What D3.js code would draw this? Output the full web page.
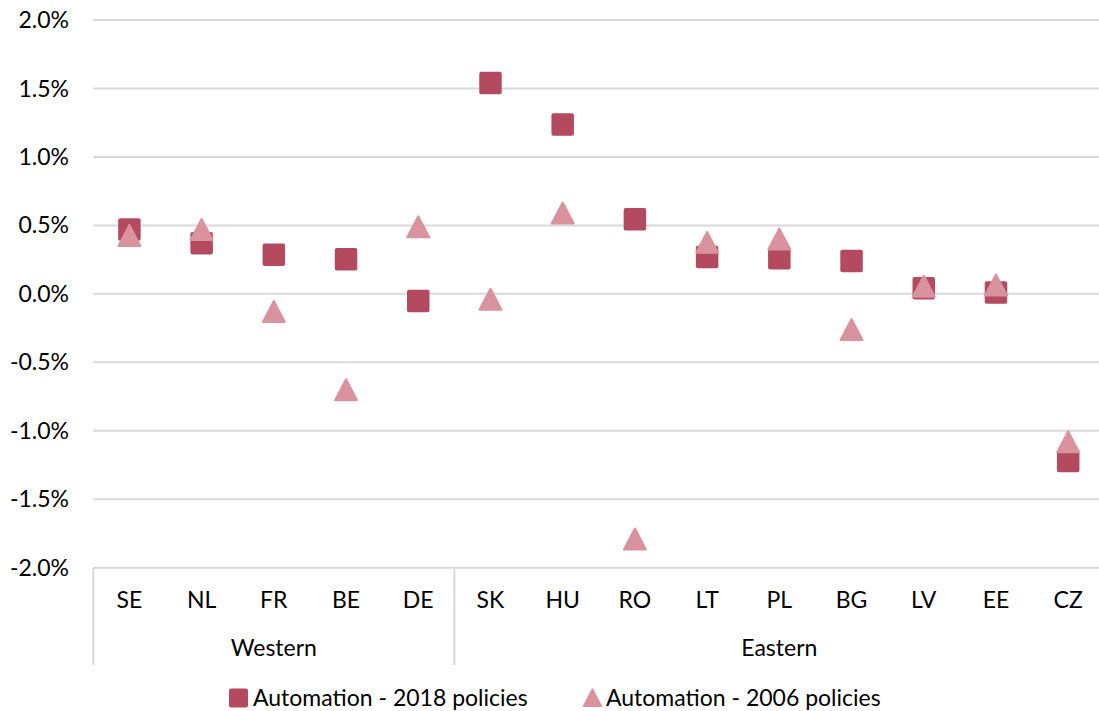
<!DOCTYPE html>
<html>
<head>
<meta charset="utf-8">
<script src="https://cdn.jsdelivr.net/npm/d3@7"></script>
<style>
  body { margin: 0; background: #fff; }
  text { font-family: Lato, "Open Sans", sans-serif; fill: #000; font-size: 23px; }
</style>
</head>
<body>
<script>
// data
var countries = ["SE","NL","FR","BE","DE","SK","HU","RO","LT","PL","BG","LV","EE","CZ"];
var regions = ["Western","Western","Western","Western","Western",
               "Eastern","Eastern","Eastern","Eastern","Eastern","Eastern","Eastern","Eastern","Eastern"];
var policies2018 = [0.47, 0.37, 0.285, 0.253, -0.053, 1.54, 1.236, 0.544, 0.27, 0.26, 0.24, 0.04, 0.01, -1.22];
var policies2006 = [0.427, 0.47, -0.128, -0.70, 0.49, -0.04, 0.59, -1.79, 0.376, 0.40, -0.26, 0.056, 0.065, -1.08];
var yTicks = [2.0, 1.5, 1.0, 0.5, 0.0, -0.5, -1.0, -1.5, -2.0];
var seriesNames = ["Automation - 2018 policies", "Automation - 2006 policies"];

var width = 1099, height = 711;
var plotL = 93.3, plotR = 1104.3, plotT = 20, plotB = 567.7;
var col2018 = "#b34a5f", col2006 = "#d9939e";

var svg = d3.select("body").append("svg")
    .attr("width", width)
    .attr("height", height);

var x = d3.scaleBand().domain(countries).range([plotL, plotR]);
var y = d3.scaleLinear().domain([-2, 2]).range([plotB, plotT]);

// gridlines
svg.selectAll(".grid")
    .data(yTicks)
    .enter()
    .append("line")
    .attr("x1", plotL)
    .attr("x2", plotR)
    .attr("y1", function(d){ return y(d) })
    .attr("y2", function(d){ return y(d) })
    .style("stroke", "#d9d9d9")
    .style("stroke-width", 2);

// y tick labels
svg.selectAll(".ytick")
    .data(yTicks)
    .enter()
    .append("text")
    .attr("x", 69)
    .attr("y", function(d){ return y(d) })
    .attr("dy", ".35em")
    .attr("text-anchor", "end")
    .text(function(d){ return d.toFixed(1) + "%" });

// category labels
svg.selectAll(".xtick")
    .data(countries)
    .enter()
    .append("text")
    .attr("x", function(d){ return x(d) + x.bandwidth() / 2 })
    .attr("y", 600)
    .attr("dy", ".35em")
    .attr("text-anchor", "middle")
    .text(function(d){ return d });

// group separators and labels
var groups = [];
regions.forEach(function(r, i){
    var g = groups.find(function(e){ return e.name == r });
    if (!g) { g = {name: r, first: i, last: i}; groups.push(g); }
    g.last = i;
});
var seps = [x(countries[0])];
groups.forEach(function(g){ seps.push(x(countries[g.last]) + x.bandwidth()); });

svg.selectAll(".sep")
    .data(seps)
    .enter()
    .append("line")
    .attr("x1", function(d){ return d })
    .attr("x2", function(d){ return d })
    .attr("y1", plotB)
    .attr("y2", 665)
    .style("stroke", "#d9d9d9")
    .style("stroke-width", 2);

svg.selectAll(".grp")
    .data(groups)
    .enter()
    .append("text")
    .attr("x", function(g){ return (x(countries[g.first]) + x(countries[g.last]) + x.bandwidth()) / 2 })
    .attr("y", 648)
    .attr("dy", ".35em")
    .attr("text-anchor", "middle")
    .text(function(g){ return g.name });

// markers
var sq = 22.5, tw = 22, th = 21;
function triPath(cx, cy){
    return "M" + cx + "," + (cy - th / 2) +
           "L" + (cx + tw / 2) + "," + (cy + th / 2) +
           "L" + (cx - tw / 2) + "," + (cy + th / 2) + "Z";
}

svg.selectAll(".s2018")
    .data(policies2018)
    .enter()
    .append("rect")
    .attr("x", function(d, i){ return x(countries[i]) + x.bandwidth() / 2 - sq / 2 })
    .attr("y", function(d){ return y(d) - sq / 2 })
    .attr("width", sq)
    .attr("height", sq)
    .attr("rx", 2)
    .style("fill", col2018);

svg.selectAll(".s2006")
    .data(policies2006)
    .enter()
    .append("path")
    .attr("d", function(d, i){ return triPath(x(countries[i]) + x.bandwidth() / 2, y(d)) })
    .style("fill", col2006)
    .style("stroke", col2006)
    .style("stroke-width", 2)
    .style("stroke-linejoin", "round");

// legend
var leg = svg.append("g");
leg.append("rect")
    .attr("x", 229).attr("y", 688.5)
    .attr("width", 19).attr("height", 19).attr("rx", 2)
    .style("fill", col2018);
leg.append("text")
    .attr("x", 253).attr("y", 698).attr("dy", ".35em")
    .text(seriesNames[0]);
leg.append("path")
    .attr("d", "M592.5,689.5L601,706L584,706Z")
    .style("fill", col2006)
    .style("stroke", col2006)
    .style("stroke-width", 2)
    .style("stroke-linejoin", "round");
leg.append("text")
    .attr("x", 606).attr("y", 698).attr("dy", ".35em")
    .text(seriesNames[1]);
</script>
</body>
</html>
